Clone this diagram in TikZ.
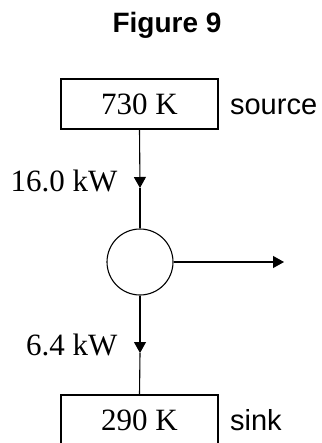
\documentclass[tikz,border=0pt]{standalone}
\usepackage{fontspec}
\setmainfont{Liberation Serif}
\setsansfont{Liberation Sans}
\usetikzlibrary{positioning,arrows.meta}

\begin{document}
\begin{tikzpicture}[x=1pt,y=-1pt,line width=1.1pt,
    >={Triangle[width=12pt,length=11pt]},
    reservoir/.style={draw,minimum width=157pt,minimum height=50pt,inner sep=0pt,
      font=\fontsize{31}{36}\selectfont},
    engine/.style={draw,circle,minimum size=66pt,inner sep=0pt},
    flux/.style={inner sep=0pt,font=\fontsize{31}{36}\selectfont},
    tag/.style={inner sep=0pt,font=\sffamily\fontsize{29}{35}\selectfont}]
  \useasboundingbox (0,0) rectangle (321,443);
  \node[inner sep=0pt,anchor=base,font=\sffamily\bfseries\fontsize{28}{34}\selectfont]
    (title) at (167,33) {Figure 9};
  \node[reservoir] (hot) at (139.5,104) {730 K};
  \node[reservoir] (cold) at (139.5,420) {290 K};
  \node[engine] (eng) at (140,262) {};
  \node[tag,anchor=base west] (srcname) at ([xshift=11pt]hot.base east) {source};
  \node[tag,anchor=base west] (sinkname) at ([xshift=11pt]cold.base east) {sink};
  \coordinate (qin) at (140,188);
  \coordinate (qout) at (140,353);
  \coordinate (work) at (284,262);
  \node[flux,anchor=base east] (qinlbl) at (118,192) {16.0 kW};
  \node[flux,anchor=base east] (qoutlbl) at (118,355) {6.4 kW};
  \draw[->] (hot.south) -- (qin);
  \draw (qin) -- (eng.north);
  \draw[->] (eng.south) -- (qout);
  \draw (qout) -- (cold.north);
  \draw[->] (eng.east) -- (work);
\end{tikzpicture}
\end{document}
